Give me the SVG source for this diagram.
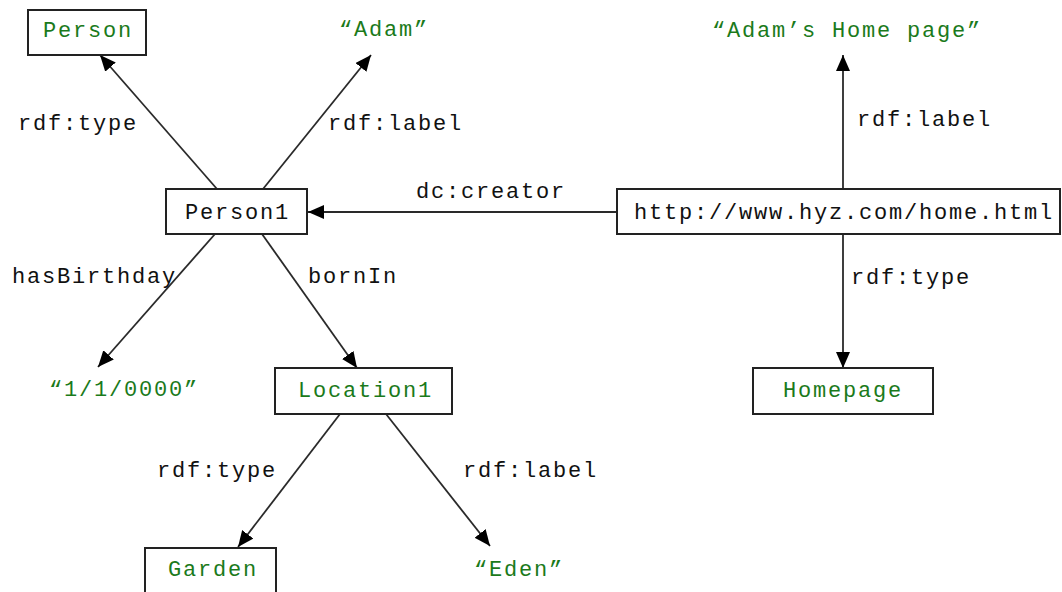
<svg xmlns="http://www.w3.org/2000/svg" width="1062" height="592" viewBox="0 0 1062 592">
<style>
.t{font-family:"Liberation Mono","Courier New",monospace;font-size:22px;letter-spacing:1.8px;fill:#111}
.g{fill:#1b7a1b}
.box{fill:#fff;stroke:#222;stroke-width:2}
.e{stroke:#2a2a2a;stroke-width:1.8;fill:none;marker-end:url(#arr)}
</style>
<defs>
<marker id="arr" markerUnits="userSpaceOnUse" markerWidth="17" markerHeight="15" refX="16" refY="7" orient="auto">
<path d="M0,0 L16,7 L0,14 z" fill="#000"/>
</marker>
</defs>
<rect width="1062" height="592" fill="#fff"/>
<g id="connectors">
<line class="e" x1="217" y1="189" x2="100" y2="55"/>
<line class="e" x1="263" y1="189" x2="371" y2="55"/>
<line class="e" x1="617" y1="212" x2="308" y2="212"/>
<line class="e" x1="843" y1="189" x2="843" y2="55"/>
<line class="e" x1="843" y1="234" x2="843" y2="368"/>
<line class="e" x1="215" y1="234" x2="98" y2="367"/>
<line class="e" x1="262" y1="234" x2="357" y2="368"/>
<line class="e" x1="340" y1="414" x2="238" y2="547"/>
<line class="e" x1="386" y1="414" x2="490" y2="546"/>
<text class="t" x="18" y="130">rdf:type</text>
<text class="t" x="328" y="130">rdf:label</text>
<text class="t" x="416" y="198">dc:creator</text>
<text class="t" x="857" y="126">rdf:label</text>
<text class="t" x="12" y="283">hasBirthday</text>
<text class="t" x="308" y="283">bornIn</text>
<text class="t" x="851" y="284">rdf:type</text>
<text class="t" x="157" y="477">rdf:type</text>
<text class="t" x="463" y="477">rdf:label</text>
</g>
<g id="n-person">
<rect class="box" x="28" y="10" width="118" height="45"/>
<text class="t g" x="43" y="37">Person</text>
</g>
<g id="n-adam">
<text class="t g" x="339" y="36">“Adam”</text>
</g>
<g id="n-homepage-label">
<text class="t g" x="712" y="37">“Adam’s Home page”</text>
</g>
<g id="n-person1">
<rect class="box" x="166" y="189" width="141" height="45"/>
<text class="t" x="185" y="219">Person1</text>
</g>
<g id="n-http">
<rect class="box" x="617" y="189" width="443" height="45"/>
<text class="t" x="634" y="219">http://www.hyz.com/home.html</text>
</g>
<g id="n-birthday">
<text class="t g" x="49" y="396">“1/1/0000”</text>
</g>
<g id="n-location1">
<rect class="box" x="275" y="368" width="177" height="46"/>
<text class="t g" x="298" y="397">Location1</text>
</g>
<g id="n-homepage">
<rect class="box" x="753" y="368" width="180" height="46"/>
<text class="t g" x="783" y="397">Homepage</text>
</g>
<g id="n-garden">
<rect class="box" x="145" y="548" width="131" height="50"/>
<text class="t g" x="168" y="576">Garden</text>
</g>
<g id="n-eden">
<text class="t g" x="474" y="576">“Eden”</text>
</g>
</svg>
